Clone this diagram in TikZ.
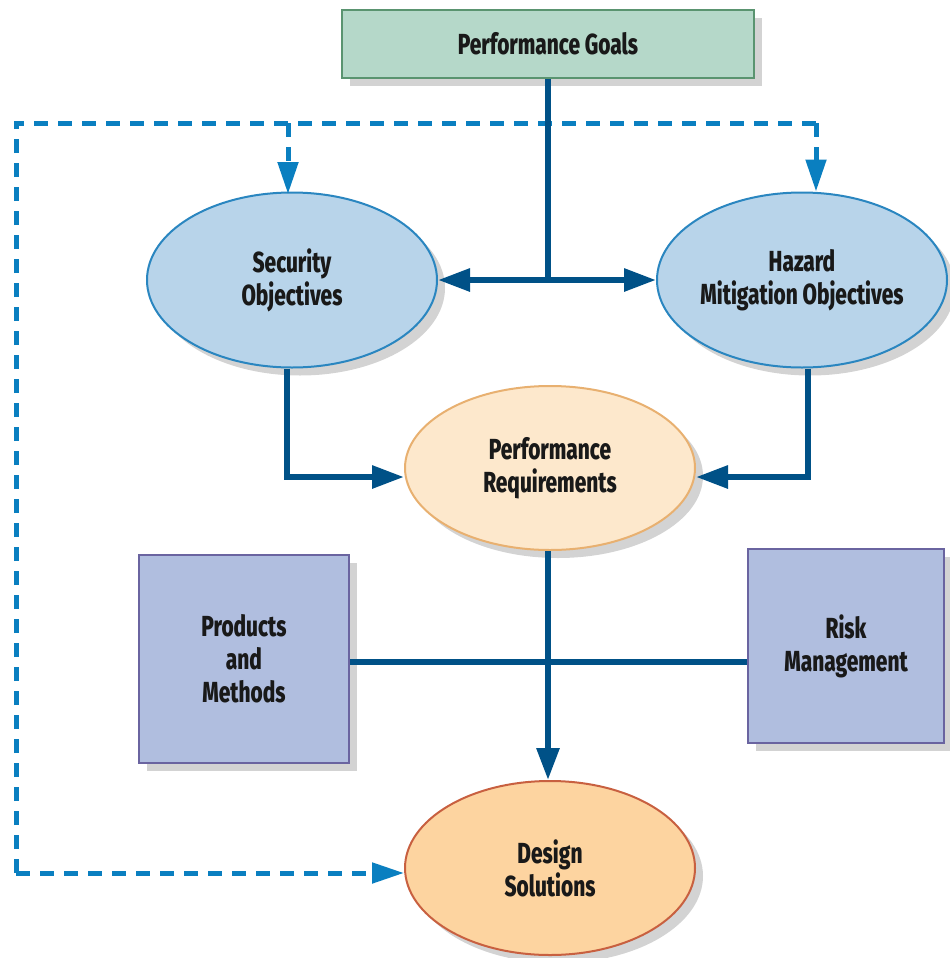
\documentclass[tikz,border=0pt]{standalone}
\usepackage{fontspec}
\newfontfamily\boxfont[FakeStretch=0.72,BoldFont={* ExtraBold}]{Fira Sans}
\usetikzlibrary{shapes.geometric,arrows.meta,shadows}
\definecolor{goalfill}{HTML}{B5D8C9}
\definecolor{goaldraw}{HTML}{5A9470}
\definecolor{objfill}{HTML}{B8D4EA}
\definecolor{objdraw}{HTML}{2A86C0}
\definecolor{reqfill}{HTML}{FDE8CC}
\definecolor{reqdraw}{HTML}{E8B070}
\definecolor{solfill}{HTML}{FDD4A0}
\definecolor{soldraw}{HTML}{C86040}
\definecolor{factfill}{HTML}{B0BEDF}
\definecolor{factdraw}{HTML}{6A64A0}
\definecolor{flowcol}{HTML}{005187}
\definecolor{fbcol}{HTML}{0A7FC0}
\tikzset{
	shade box/.style={drop shadow={shadow xshift=4pt,shadow yshift=-4pt,opacity=.35}},
	lbl/.style={font=\boxfont\bfseries\fontsize{14.5}{16.5}\selectfont,align=center,text=black!90,inner sep=0pt},
	goalbox/.style={lbl,draw=goaldraw,fill=goalfill,line width=1pt,shade box,minimum width=206pt,minimum height=34pt},
	objnode/.style={lbl,ellipse,draw=objdraw,fill=objfill,line width=1pt,shade box,minimum width=145pt,minimum height=87.5pt},
	reqnode/.style={lbl,ellipse,draw=reqdraw,fill=reqfill,line width=1pt,shade box,minimum width=145pt,minimum height=82pt},
	solnode/.style={lbl,ellipse,draw=soldraw,fill=solfill,line width=1pt,shade box,minimum width=145pt,minimum height=87pt},
	factorbox/.style={lbl,draw=factdraw,fill=factfill,line width=1pt,shade box},
	flow/.style={draw=flowcol,line width=3pt},
	feedback/.style={draw=fbcol,line width=2.5pt,dash pattern=on 7pt off 5pt},
	flowtip/.style={-{Triangle[length=16pt,width=11pt]}},
	fbtip/.style={-{Triangle[length=16pt,width=10pt]}}
}
\begin{document}
\begin{tikzpicture}[x=0.5pt,y=-0.5pt]
	\useasboundingbox (0,0) rectangle (949,958);
	% corners of the dashed feedback loop
	\coordinate (tl) at (16,123);
	\coordinate (tr) at (816,123);
	\coordinate (bl) at (16,873);
	\node[goalbox] (goals) at (548,44) {Performance Goals};
	\node[objnode] (sec) at (292,280) {Security\\Objectives};
	\node[objnode] (haz) at (802,280) {Hazard\\Mitigation Objectives};
	\node[reqnode] (req) at (550,468) {Performance\\Requirements};
	\node[factorbox,minimum width=105pt,minimum height=104pt] (prod) at (244,659) {Products\\and\\Methods};
	\node[factorbox,minimum width=98pt,minimum height=97pt] (risk) at (846,646) {Risk\\Management};
	\node[solnode] (sol) at (550,868) {Design\\Solutions};
	\coordinate (split) at (goals.south |- sec.east);
	\draw[feedback] (bl) -- (tl) -- (tr);
	\draw[feedback,fbtip] (tl -| 288,0) -- (288,194);
	\draw[feedback,fbtip] (tr) -- (tr |- haz.north);
	\draw[feedback,fbtip] (bl) -- (bl -| sol.west);
	\draw[flow] (goals.south) -- (split);
	\draw[flow,flowtip] (split) -- (sec.east);
	\draw[flow,flowtip] (split) -- (haz.west);
	\draw[flow,flowtip] (sec.south) ++(-5,0) |- ([yshift=-4.5pt]req.west);
	\draw[flow,flowtip] (haz.south) ++(6,0) |- ([yshift=-4.5pt]req.east);
	\draw[flow] (prod.east |- 0,662) -- (risk.west |- 0,662);
	\draw[flow,flowtip] (req.south -| goals.south) -- (sol.north -| goals.south);
\end{tikzpicture}
\end{document}
